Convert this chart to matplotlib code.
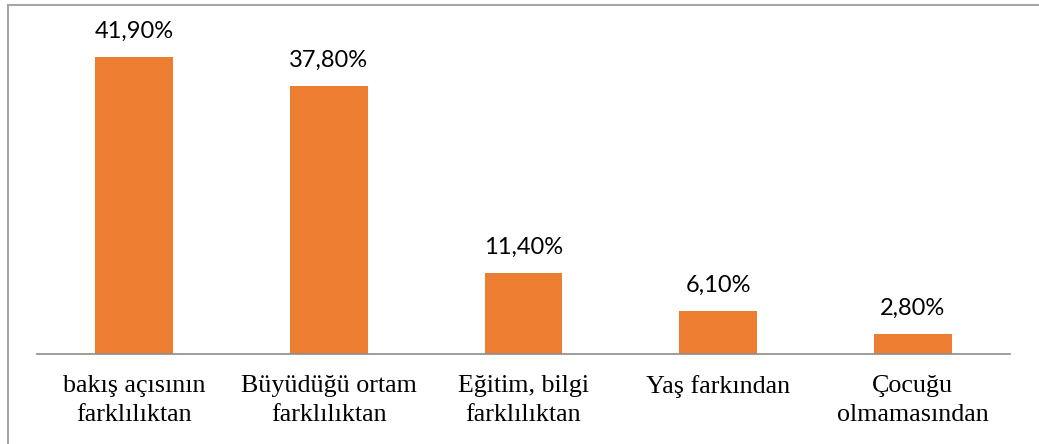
import matplotlib.pyplot as plt
from matplotlib.lines import Line2D

# Veriler
kategoriler = ["bakış açısının\nfarklılıktan", "Büyüdüğü ortam\nfarklılıktan",
               "Eğitim, bilgi\nfarklılıktan", "Yaş farkından", "Çocuğu\nolmamasından"]
oranlar = [41.9, 37.8, 11.4, 6.1, 2.8]
etiketler = ["41,90%", "37,80%", "11,40%", "6,10%", "2,80%"]

fig = plt.figure(figsize=(10.39, 4.44), dpi=100)
ax = fig.add_axes([37 / 1039, 90 / 444, 973 / 1039, 339 / 444])

x = range(len(kategoriler))
bars = ax.bar(x, oranlar, width=0.4, color="#ED7D31")

for b, et in zip(bars, etiketler):
    ax.annotate(et, (b.get_x() + b.get_width() / 2, b.get_height()),
                xytext=(0, 11), textcoords="offset points",
                ha="center", va="bottom", fontsize=17, family="Lato")

ax.set_xlim(-0.5, len(kategoriler) - 0.5)
ax.set_ylim(0, 339 / 7.09)
ax.set_xticks(list(x))
ax.set_xticklabels(kategoriler, family="Liberation Serif", fontsize=18.7,
                   linespacing=1.45)
ax.tick_params(axis="x", length=0, pad=15)
ax.set_yticks([])
for s in ["top", "right", "left"]:
    ax.spines[s].set_visible(False)
ax.spines["bottom"].set_color("#8c8c8c")
ax.spines["bottom"].set_linewidth(1.2)

# grafik çerçevesi
fig.add_artist(Line2D([8 / 1039, 8 / 1039], [0, 1 - 5 / 444], color="#a6a6a6", lw=1.5))
fig.add_artist(Line2D([8 / 1039, 1], [1 - 5 / 444, 1 - 5 / 444], color="#a6a6a6", lw=1.5))

fig.savefig("out.png", dpi=100)
